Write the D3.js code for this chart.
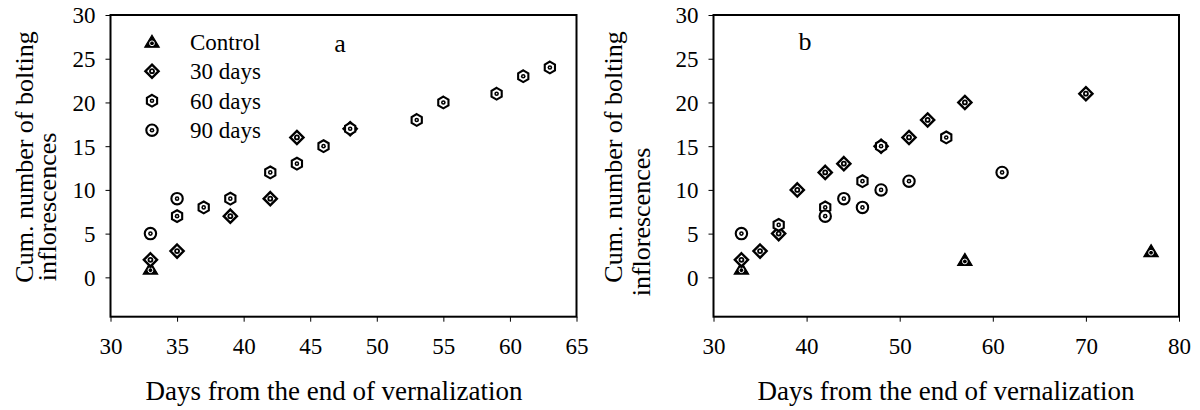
<!DOCTYPE html>
<html>
<head>
<meta charset="utf-8">
<script src="https://cdn.jsdelivr.net/npm/d3@7"></script>
<style>
  body { margin: 0; background: #fff; }
  svg { display: block; }
  text { font-family: "Liberation Serif", "DejaVu Serif", "Times New Roman", serif; fill: #000; }
</style>
</head>
<body>
<svg id="chart" width="1200" height="410"></svg>
<script>
// Series names, in drawing order
const seriesNames = ['Control', '30 days', '60 days', '90 days'];
const seriesShapes = ['triangle', 'diamond', 'hexagon', 'circle'];

// Panel a: [day, cumulative count]
const aControl = [[33, 1]];
const a30 = [[33, 2], [35, 3], [39, 7], [42, 9], [44, 16], [48, 17]];
const a60 = [[35, 7], [37, 8], [39, 9], [42, 12], [44, 13], [46, 15], [48, 17],
             [53, 18], [55, 20], [59, 21], [61, 23], [63, 24]];
const a90 = [[33, 5], [35, 9]];

// Panel b
const bControl = [[33, 1], [57, 2], [77, 3]];
const b30 = [[33, 2], [35, 3], [37, 5], [39, 10], [42, 12], [44, 13], [48, 15],
             [51, 16], [53, 18], [57, 20], [70, 21]];
const b60 = [[37, 6], [42, 8], [46, 11], [48, 15], [55, 16]];
const b90 = [[33, 5], [42, 7], [44, 9], [46, 8], [48, 10], [51, 11], [61, 12]];

// Axes
const yTicks = [0, 5, 10, 15, 20, 25, 30];
const aXTicks = [30, 35, 40, 45, 50, 55, 60, 65];
const bXTicks = [30, 40, 50, 60, 70, 80];

const yTitle = ['Cum. number of bolting', 'inflorescences'];
const xTitle = 'Days from the end of vernalization';

const svg = d3.select('#chart');

// marker drawing
function drawMarker(g, shape) {
  if (shape === 'triangle') {
    g.append('path')
      .attr('d', 'M0,-6.5 L7.2,5.5 L-7.2,5.5 Z')
      .attr('fill', '#000').attr('stroke', '#000').attr('stroke-width', 1.2);
    g.append('circle').attr('cx', 0).attr('cy', 1.6).attr('r', 2.4)
      .attr('fill', 'none').attr('stroke', '#fff').attr('stroke-width', 1);
    g.append('circle').attr('cx', 0).attr('cy', 1.6).attr('r', 0.9).attr('fill', '#000');
    return;
  }
  if (shape === 'diamond') {
    g.append('path')
      .attr('d', 'M0,-6.6 L6.6,0 L0,6.6 L-6.6,0 Z')
      .attr('fill', '#fff').attr('stroke', '#000').attr('stroke-width', 2.4);
    g.append('circle').attr('r', 2.9).attr('fill', '#000');
    g.append('circle').attr('r', 1.1).attr('fill', '#fff');
    return;
  }
  if (shape === 'hexagon') {
    const r = 5.9;
    const pts = d3.range(6).map(i => {
      const a = Math.PI / 3 * i - Math.PI / 2;
      return [r * Math.cos(a), r * Math.sin(a)];
    });
    g.append('path')
      .attr('d', 'M' + pts.join('L') + 'Z')
      .attr('fill', '#fff').attr('stroke', '#000').attr('stroke-width', 2.1);
    g.append('circle').attr('r', 2.3).attr('fill', '#000');
    g.append('circle').attr('r', 0.8).attr('fill', '#fff');
    return;
  }
  // circle
  g.append('circle').attr('r', 5.7)
    .attr('fill', '#fff').attr('stroke', '#000').attr('stroke-width', 2.1);
  g.append('circle').attr('r', 2.3).attr('fill', '#000');
  g.append('circle').attr('r', 0.8).attr('fill', '#fff');
}

function drawPanel(opts) {
  const x = d3.scaleLinear().domain(opts.xDomain).range([opts.left, opts.right]);
  const y = d3.scaleLinear().domain([-4.5, 30]).range([316.7, 15]);
  const g = svg.append('g');

  // frame
  g.append('rect')
    .attr('x', opts.left).attr('y', 15)
    .attr('width', opts.right - opts.left).attr('height', 316.7 - 15)
    .attr('fill', 'none').attr('stroke', '#000').attr('stroke-width', 2);

  // y axis
  const yAxis = g.append('g')
    .attr('transform', `translate(${opts.left},0)`)
    .call(d3.axisLeft(y).tickValues(yTicks).tickSize(5).tickPadding(10));
  yAxis.attr('font-family', null).attr('font-size', null);
  yAxis.select('.domain').remove();
  yAxis.selectAll('line').attr('stroke', '#000').attr('stroke-width', 1);
  yAxis.selectAll('text').style('font-size', '23px').attr('dy', '0.34em');

  // x axis
  const xAxis = g.append('g')
    .attr('transform', `translate(0,316.7)`)
    .call(d3.axisBottom(x).tickValues(opts.xTicks).tickSize(5).tickPadding(16));
  xAxis.attr('font-family', null).attr('font-size', null);
  xAxis.select('.domain').remove();
  xAxis.selectAll('line').attr('stroke', '#000').attr('stroke-width', 1);
  xAxis.selectAll('text').style('font-size', '23px');

  // axis titles
  g.append('text')
    .attr('x', opts.xTitleX).attr('y', 400)
    .attr('text-anchor', 'middle').style('font-size', '27px')
    .text(xTitle);
  opts.yTitlePos.forEach((p, i) => {
    g.append('text')
      .attr('transform', `translate(${p[0]},${p[1]}) rotate(-90)`)
      .attr('text-anchor', 'middle').style('font-size', '26px')
      .text(yTitle[i]);
  });

  // panel letter
  g.append('text').attr('x', opts.letterPos[0]).attr('y', opts.letterPos[1])
    .attr('text-anchor', 'middle').style('font-size', '26px').text(opts.letter);

  // series
  opts.series.forEach((data, si) => {
    g.selectAll(null)
      .data(data)
      .enter()
      .append('g')
      .attr('transform', d => `translate(${x(d[0])},${y(d[1])})`)
      .each(function() { drawMarker(d3.select(this), seriesShapes[si]); });
  });
}

drawPanel({
  xDomain: [30, 65], left: 110.5, right: 576.5, xTicks: aXTicks, xTitleX: 334,
  yTitlePos: [[33, 157], [56, 207]],
  letter: 'a', letterPos: [340, 52],
  series: [aControl, a30, a60, a90]
});

drawPanel({
  xDomain: [30, 80], left: 713.5, right: 1179, xTicks: bXTicks, xTitleX: 946,
  yTitlePos: [[622, 157], [650, 222]],
  letter: 'b', letterPos: [805, 50],
  series: [bControl, b30, b60, b90]
});

// legend (panel a)
const legend = svg.append('g');
seriesNames.forEach((name, i) => {
  const yPos = 41.7 + i * 29.5;
  drawMarker(legend.append('g').attr('transform', `translate(152,${yPos})`), seriesShapes[i]);
  legend.append('text').attr('x', 190).attr('y', yPos + 8)
    .style('font-size', '23px').text(name);
});
</script>
</body>
</html>
